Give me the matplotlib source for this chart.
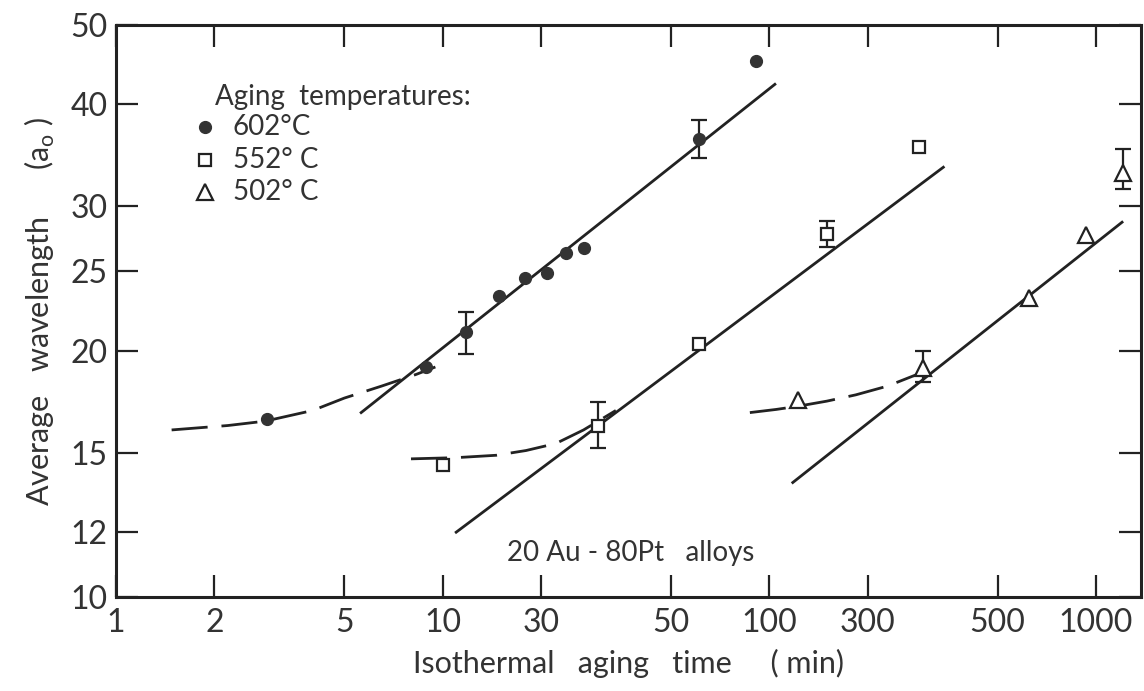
import numpy as np
import matplotlib
matplotlib.use("Agg")
import matplotlib.pyplot as plt

plt.rcParams['font.family'] = ['Lato', 'DejaVu Sans']
plt.rcParams['mathtext.fontset'] = 'custom'
plt.rcParams['mathtext.rm'] = 'Lato'

# measured points (time in min, wavelength in a0)
t602 = [2.9, 8.9, 11.8, 14.9, 17.9, 20.9, 23.8, 27.1, 61, 91]
w602 = [16.5, 19.1, 21.1, 23.3, 24.5, 24.9, 26.3, 26.7, 36.3, 45.2]
t552 = [10.0, 29.9, 60.8, 150, 287]
w552 = [14.5, 16.2, 20.4, 27.8, 35.5]
t502 = [122, 295, 625, 931, 1210]
w502 = [17.4, 19.05, 23.2, 27.7, 33.0]

# error bars (time, low, high)
err_t602 = [11.8, 61]
err_lo602 = [19.8, 34.4]
err_hi602 = [22.3, 38.3]
err_t552 = [29.9, 150]
err_lo552 = [15.2, 26.8]
err_hi552 = [17.3, 28.8]
err_t502 = [295, 1210]
err_lo502 = [18.3, 31.5]
err_hi502 = [20.0, 35.3]

# straight fitted lines (end points)
fit602_t = [5.63, 104]
fit602_w = [16.8, 42.3]
fit552_t = [11.0, 341]
fit552_w = [12.0, 33.5]
fit502_t = [118, 1202]
fit502_w = [13.8, 28.7]

# dashed early-stage curves
dash602_t = [1.48, 2.2, 2.86, 4.0, 5.0, 6.5, 8.28, 9.5]
dash602_w = [16.0, 16.2, 16.4, 16.9, 17.5, 18.1, 18.7, 19.1]
dash552_t = [8.0, 11.0, 14.6, 18.0, 22.2, 27.0, 33.9]
dash552_w = [14.75, 14.8, 14.9, 15.1, 15.4, 16.0, 16.9]
dash502_t = [87.2, 105, 122, 150, 184, 230, 283]
dash502_w = [16.8, 16.95, 17.1, 17.35, 17.66, 18.1, 18.7]

xticks = [1, 2, 5, 10, 20, 50, 100, 200, 500, 1000]
xticklabels = ['1', '2', '5', '10', '30', '50', '100', '300', '500', '1000']
yticks = [10, 12, 15, 20, 25, 30, 40, 50]


def main():
    fig = plt.figure(figsize=(11.44, 6.91), dpi=100)
    ax = fig.add_axes([0.1014, 0.136, 0.896, 0.828])
    ax.set_xscale('log')
    ax.set_yscale('log')
    ax.set_xlim(1, 1374)
    ax.set_ylim(10, 50)

    k = '#222222'
    tc = '#333333'
    lw = 2.0
    ax.plot(fit602_t, fit602_w, color=k, lw=lw)
    ax.plot(fit552_t, fit552_w, color=k, lw=lw)
    ax.plot(fit502_t, fit502_w, color=k, lw=lw)
    for tt, ww in [(dash602_t, dash602_w), (dash552_t, dash552_w), (dash502_t, dash502_w)]:
        ax.plot(tt, ww, color=k, lw=lw, dashes=(13, 5))

    for et, lo, hi in [(err_t602, err_lo602, err_hi602), (err_t552, err_lo552, err_hi552),
                       (err_t502, err_lo502, err_hi502)]:
        ax.vlines(et, lo, hi, color=k, lw=1.6)
        ax.plot(et, lo, '_', color=k, ms=11, mew=1.6)
        ax.plot(et, hi, '_', color=k, ms=11, mew=1.6)

    ax.plot(t602, w602, 'o', color='#333333', ms=8.5, zorder=5)
    ax.plot(t552, w552, 's', mfc='white', mec=k, mew=1.6, ms=8, zorder=5)
    ax.plot(t502, w502, '^', mfc='white', mec=k, mew=1.6, ms=12, zorder=5)

    ax.set_xticks(xticks)
    ax.set_xticklabels(xticklabels)
    ax.set_yticks(yticks)
    ax.set_yticklabels([str(v) for v in yticks])
    ax.minorticks_off()
    ax.tick_params(axis='both', direction='in', labelsize=23, color=k, width=1.6,
                   length=16, top=True, right=True, pad=6, labelcolor=tc)
    ax.tick_params(axis='x', pad=8)
    for s in ax.spines.values():
        s.set_linewidth(2.2)
        s.set_color(k)

    ax.set_xlabel('Isothermal   aging   time     ( min)', fontsize=22, color=tc, labelpad=8)
    ax.set_ylabel('Average   wavelength      (a$_\\mathrm{o}$ )', fontsize=22, color=tc,
                  labelpad=10)

    # legend drawn by hand in axes fraction
    tr = ax.transAxes
    ax.text(0.097, 0.874, 'Aging  temperatures:', transform=tr, fontsize=20, color=tc,
            va='center')
    ax.plot([0.087], [0.822], 'o', color='#333333', ms=8.5, transform=tr)
    ax.plot([0.087], [0.764], 's', mfc='white', mec=k, mew=1.6, ms=8, transform=tr)
    ax.plot([0.087], [0.708], '^', mfc='white', mec=k, mew=1.6, ms=12, transform=tr)
    ax.text(0.114, 0.822, '602°C', transform=tr, fontsize=20, color=tc, va='center')
    ax.text(0.114, 0.764, '552° C', transform=tr, fontsize=20, color=tc, va='center')
    ax.text(0.114, 0.708, '502° C', transform=tr, fontsize=20, color=tc, va='center')

    ax.text(0.502, 0.077, '20 Au - 80Pt   alloys', transform=tr, fontsize=20, color=tc,
            ha='center', va='center')

    fig.savefig('out.png', dpi=100)


if __name__ == "__main__":
    main()
